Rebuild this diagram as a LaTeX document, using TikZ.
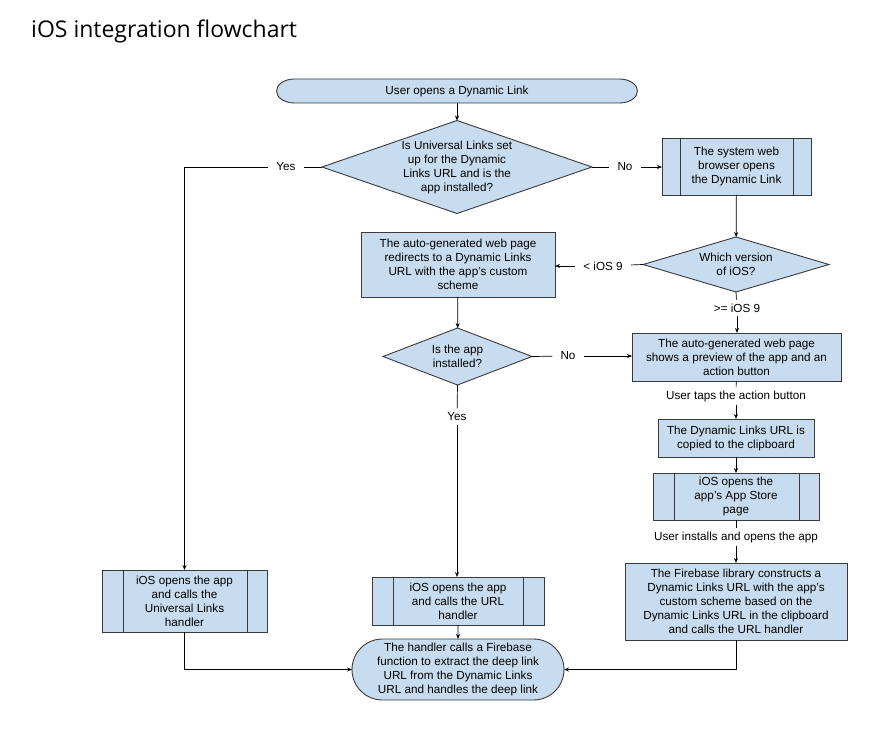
\documentclass[tikz,border=0pt]{standalone}
\usepackage{fontspec}
\setmainfont{Liberation Sans}
\newfontfamily\titlefont{Open Sans}
\usetikzlibrary{shapes.geometric,shapes.misc,arrows.meta}
\definecolor{boxfill}{HTML}{C8DCEF}
\definecolor{linec}{HTML}{3A3A3A}
\newcommand\sidebars[3]{%
  \draw[boxline] ([xshift=#2pt]#1.north west) -- ([xshift=#2pt]#1.south west);
  \draw[boxline] ([xshift=-#3pt]#1.north east) -- ([xshift=-#3pt]#1.south east);}
\begin{document}
\begin{tikzpicture}[x=1pt,y=-1pt,
  every node/.style={font=\fontsize{11.7}{14}\selectfont, align=center},
  boxline/.style={draw=linec, line width=0.9pt},
  box/.style={boxline, fill=boxfill, rectangle, inner sep=0pt, outer sep=0pt},
  dec/.style={boxline, fill=boxfill, diamond, inner sep=0pt, outer sep=0pt},
  term/.style={boxline, fill=boxfill, rounded rectangle, inner sep=0pt, outer sep=0pt},
  lbl/.style={fill=white, inner xsep=8pt, inner ysep=4pt},
  con/.style={line width=0.7pt, draw=black},
  arr/.style={con, -{Stealth[length=5pt,width=4pt]}}
]
\useasboundingbox (0,0) rectangle (895,730);
\fill[white] (0,0) rectangle (895,730);

\node[anchor=base west, font=\titlefont\fontsize{23}{28}\selectfont, inner sep=0pt] (title) at (31,38) {iOS integration flowchart};

% start terminal with elliptical ends
\node[rectangle, inner sep=0pt, outer sep=0pt, minimum width=361, minimum height=24] (start) at (457,91) {};
\draw[boxline, fill=boxfill] ([xshift=18pt]start.north west) -- ([xshift=-18pt]start.north east)
  arc[start angle=-90, end angle=90, x radius=18, y radius=12]
  -- ([xshift=18pt]start.south west)
  arc[start angle=90, end angle=270, x radius=18, y radius=12] -- cycle;
\node at (start.center) {User opens a Dynamic Link};

\node[dec, minimum width=270, minimum height=93, label=center:{Is Universal Links set\\up for the Dynamic\\Links URL and is the\\app installed?}] (d1) at (457,167) {};
\node[lbl] (yes1) at (286,167) {Yes};
\node[lbl] (no1) at (625,167) {No};

\node[box, minimum width=149, minimum height=57] (browser) at (736.5,166.5) {The system web\\browser opens\\the Dynamic Link};
\sidebars{browser}{18}{18}

\node[dec, minimum width=186, minimum height=55, label=center:{Which version\\of iOS?}] (d2) at (736,264.5) {};
\node[lbl] (lt9) at (603,266) {< iOS 9};
\node[box, minimum width=194, minimum height=65] (redirect) at (458,264.5) {The auto-generated web page\\redirects to a Dynamic Links\\URL with the app’s custom\\scheme};
\node[lbl] (ge9) at (737,308) {>= iOS 9};

\node[dec, minimum width=149, minimum height=57, label=center:{Is the app\\installed?}] (d3) at (457.5,356.5) {};
\node[lbl] (no3) at (568,356) {No};
\node[lbl] (yes3) at (457,417) {Yes};

\node[box, minimum width=209, minimum height=48] (preview) at (736.5,357) {The auto-generated web page\\shows a preview of the app and an\\action button};
\node[lbl, inner ysep=3pt] (taps) at (736,396) {User taps the action button};
\node[box, minimum width=156, minimum height=38] (clip) at (736,438) {The Dynamic Links URL is\\copied to the clipboard};
\node[box, minimum width=166, minimum height=47] (store) at (736,496.5) {iOS opens the\\app’s App Store\\page};
\sidebars{store}{21}{20}
\node[lbl, inner ysep=3pt] (installs) at (736,537) {User installs and opens the app};
\node[box, minimum width=222, minimum height=77] (firebase) at (736,601.5) {The Firebase library constructs a\\Dynamic Links URL with the app’s\\custom scheme based on the\\Dynamic Links URL in the clipboard\\and calls the URL handler};

\node[box, minimum width=165, minimum height=62] (univ) at (184.5,601) {iOS opens the app\\and calls the\\Universal Links\\handler};
\sidebars{univ}{21}{20}
\node[box, minimum width=172, minimum height=48] (urlh) at (458,601) {iOS opens the app\\and calls the URL\\handler};
\sidebars{urlh}{21}{21}
\node[term, minimum width=212, minimum height=61] (final) at (458,669.5) {The handler calls a Firebase\\function to extract the deep link\\URL from the Dynamic Links\\URL and handles the deep link};

\draw[arr] (start) -- (d1);
\draw[con] (d1.west) -- (yes1);
\draw[arr] (yes1) -| (univ.north);
\draw[con] (d1.east) -- (no1);
\draw[arr] (no1.east) -- (no1.east -| browser.west);
\draw[arr] (browser) -- (d2);
\draw[con] (d2.west) -- (lt9);
\draw[arr] (lt9.west) -- (lt9.west -| redirect.east);
\draw[con] (d2.south) -- (ge9);
\draw[arr] (ge9.south) -- (ge9.south |- preview.north);
\draw[arr] (redirect) -- (d3);
\draw[con] (d3.east) -- (no3);
\draw[arr] (no3.east) -- (no3.east -| preview.west);
\draw[con] (d3.south) -- (yes3);
\draw[arr] (yes3.south) -- (yes3.south |- urlh.north);
\draw[con] (preview) -- (taps);
\draw[arr] (taps) -- (clip);
\draw[arr] (clip) -- (store);
\draw[con] (store) -- (installs);
\draw[arr] (installs) -- (firebase);
\draw[arr] (univ.south) |- (final.west);
\draw[arr] (firebase.south) |- (final.east);
\draw[arr] (urlh) -- (final);
\end{tikzpicture}
\end{document}
